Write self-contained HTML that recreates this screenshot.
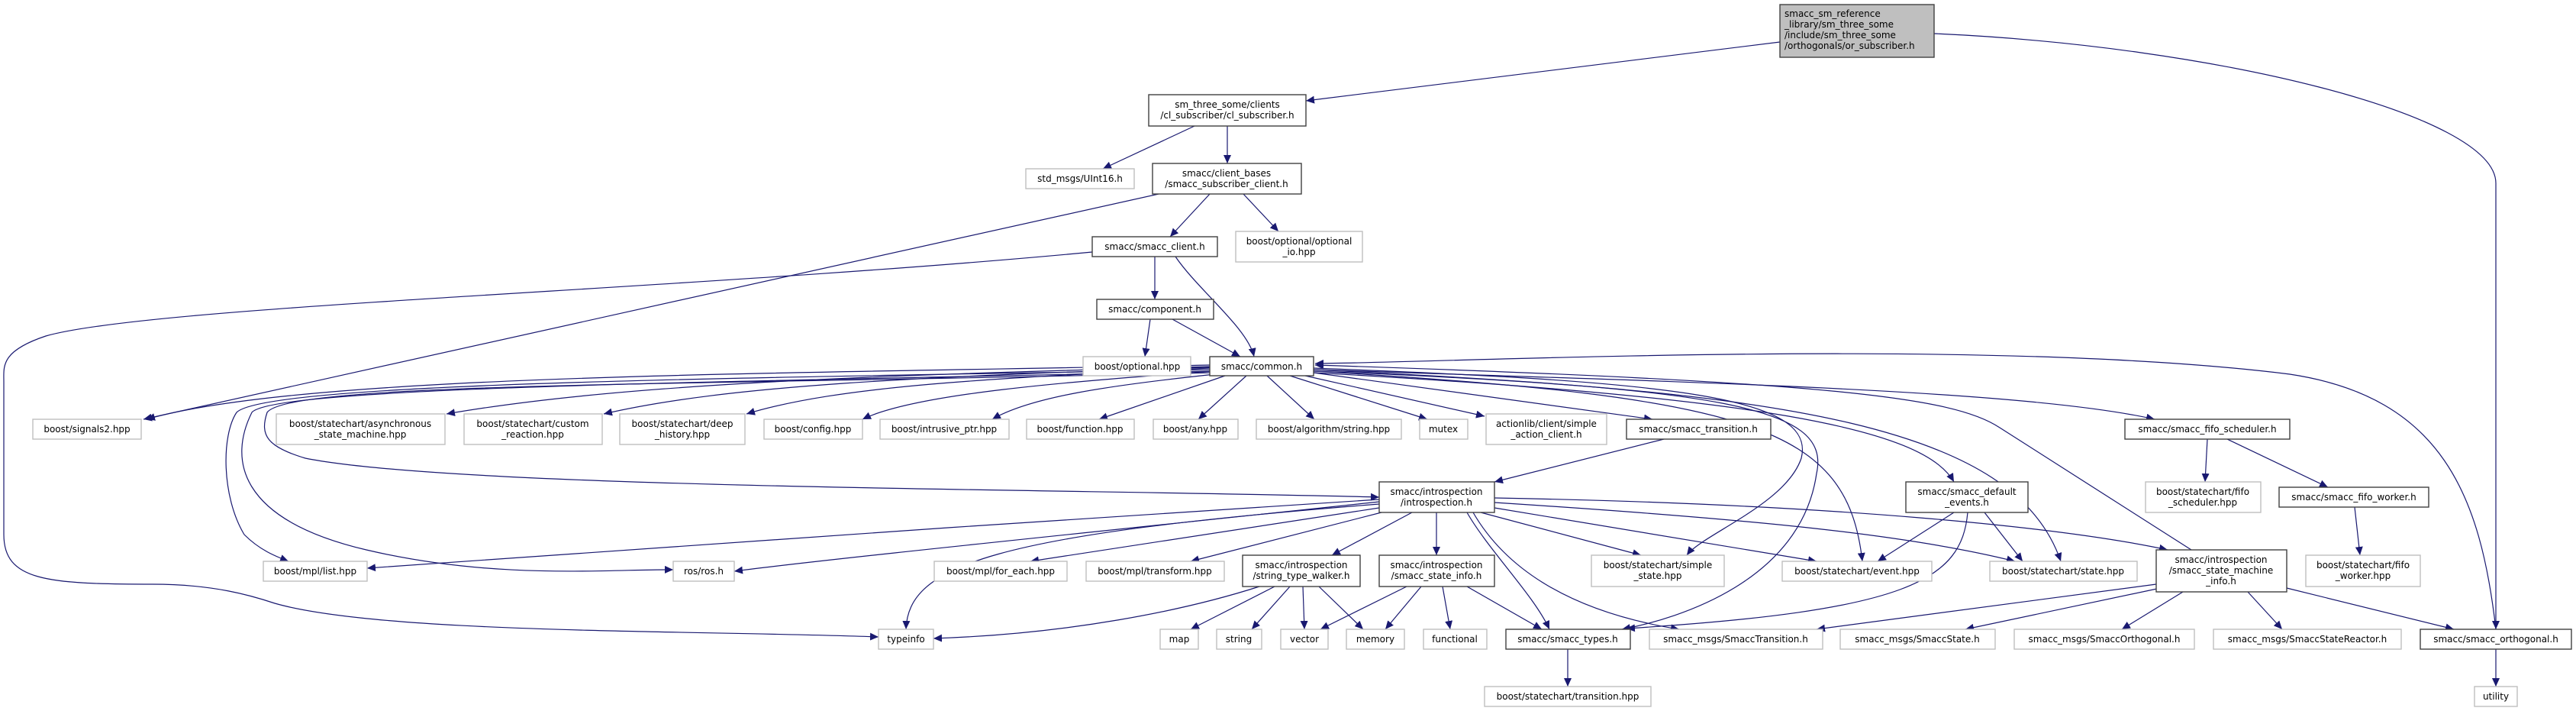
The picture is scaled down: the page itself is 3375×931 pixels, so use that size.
<!DOCTYPE html>
<html><head><meta charset="utf-8"><style>
html,body{margin:0;padding:0;background:#fff}
svg{display:block}
text{font-family:"DejaVu Sans","Liberation Sans",sans-serif;font-size:12px;fill:#000;text-anchor:middle}
.b{fill:#fff;stroke:#404040;stroke-width:1.4}
.g{fill:#fff;stroke:#bfbfbf;stroke-width:1.4}
.e{fill:none;stroke:#191970;stroke-width:1.2;marker-end:url(#a)}
</style></head><body>
<svg width="3375" height="931" viewBox="0 0 3375 931" xmlns="http://www.w3.org/2000/svg">
<defs><marker id="a" markerUnits="userSpaceOnUse" markerWidth="12" markerHeight="10" refX="11" refY="5" orient="auto"><path d="M0,0 L11,5 L0,10 z" fill="#191970"/></marker></defs>

<path class="e" d="M2332,55 L1711,132"/>
<path class="e" d="M2534,44 C2900,60 3270,150 3270,240 L3270,824"/>
<path class="e" d="M1565,165 L1445,221"/>
<path class="e" d="M1608,165 L1608,214"/>
<path class="e" d="M1518,254 L188,549"/>
<path class="e" d="M1585,254 L1533,310"/>
<path class="e" d="M1629,254 L1675,303"/>
<path class="e" d="M1431,330 C900,380 200,400 60,440 C0,460 5,480 5,500 L5,700 C5,760 60,765 200,765 C280,765 330,780 360,790 C500,830 900,825 1151,834"/>
<path class="e" d="M1513,336 L1513,392"/>
<path class="e" d="M1540,336 C1570,380 1635,430 1643,467"/>
<path class="e" d="M1507,418 L1500,467"/>
<path class="e" d="M1536,418 L1625,467"/>

<path class="e" d="M1585,478 C1000,490 400,490 192,549"/>
<path class="e" d="M1585,480 C1100,492 800,505 585,542"/>
<path class="e" d="M1585,481 C1200,493 950,505 791,542"/>
<path class="e" d="M1585,482 C1300,495 1100,505 978,542"/>
<path class="e" d="M1588,486 C1400,500 1200,515 1130,549"/>
<path class="e" d="M1592,490 C1450,505 1350,520 1300,549"/>
<path class="e" d="M1605,492 L1440,549"/>
<path class="e" d="M1633,492 L1570,549"/>
<path class="e" d="M1660,492 L1722,549"/>
<path class="e" d="M1690,492 L1870,549"/>
<path class="e" d="M1710,492 L1945,545"/>
<path class="e" d="M1721,488 L2165,549"/>
<path class="e" d="M1585,484 C1000,495 350,500 310,540 C290,570 290,650 320,700 C340,720 360,728 378,735"/>
<path class="e" d="M1585,486 C1000,500 360,505 330,540 C300,600 310,680 480,720 C650,760 800,745 882,746"/>
<path class="e" d="M1585,488 C900,505 380,500 350,540 C340,570 350,585 400,600 C600,640 1400,640 1807,651"/>
<path class="e" d="M1721,482 C2200,500 2380,520 2360,600 C2340,660 2230,700 2210,727"/>
<path class="e" d="M1721,484 C2250,510 2400,530 2380,620 C2360,760 2200,810 2125,824"/>
<path class="e" d="M1721,486 C2300,520 2420,560 2440,735"/>
<path class="e" d="M1721,488 C2300,520 2520,560 2560,631"/>
<path class="e" d="M1721,486 C2350,510 2640,560 2700,735"/>
<path class="e" d="M1721,484 C2200,500 2650,510 2823,549"/>
<path class="e" d="M2871,720 L2620,560 C2560,520 2400,500 1723,478"/>
<path class="e" d="M3270,824 C3250,650 3200,520 3000,490 C2600,440 1900,475 1723,476"/>

<path class="e" d="M2180,575 L1958,631"/>
<path class="e" d="M2892,575 L2889,631"/>
<path class="e" d="M2918,575 L3050,638"/>
<path class="e" d="M3085,664 L3092,727"/>

<path class="e" d="M1807,654 C1400,680 800,720 481,744"/>
<path class="e" d="M1807,657 C1500,690 1100,730 962,748"/>
<path class="e" d="M1807,660 C1300,700 1190,740 1187,824"/>
<path class="e" d="M1807,665 L1350,735"/>
<path class="e" d="M1810,671 L1560,735"/>
<path class="e" d="M1850,671 L1745,727"/>
<path class="e" d="M1882,671 L1882,727"/>
<path class="e" d="M1922,671 C1950,720 2010,780 2030,824"/>
<path class="e" d="M1930,671 C1970,740 2050,800 2200,824"/>
<path class="e" d="M1940,671 L2150,727"/>
<path class="e" d="M1958,665 L2380,735"/>
<path class="e" d="M1958,658 C2300,680 2500,700 2640,735"/>
<path class="e" d="M1958,652 C2400,660 2700,690 2840,720"/>

<path class="e" d="M2560,671 L2460,735"/>
<path class="e" d="M2600,671 L2650,735"/>
<path class="e" d="M2578,671 C2570,760 2500,800 2131,823"/>

<path class="e" d="M1650,768 C1550,800 1400,830 1223,836"/>
<path class="e" d="M1670,768 L1560,824"/>
<path class="e" d="M1690,768 L1640,824"/>
<path class="e" d="M1707,768 L1709,824"/>
<path class="e" d="M1728,768 L1786,824"/>
<path class="e" d="M1843,768 L1730,824"/>
<path class="e" d="M1862,768 L1815,824"/>
<path class="e" d="M1890,768 L1900,824"/>
<path class="e" d="M1922,768 L2020,824"/>
<path class="e" d="M2825,765 L2380,824"/>
<path class="e" d="M2840,768 L2575,824"/>
<path class="e" d="M2860,775 L2780,824"/>
<path class="e" d="M2945,775 L2990,824"/>
<path class="e" d="M2996,770 L3215,824"/>
<path class="e" d="M2054,850 L2054,899"/>
<path class="e" d="M3270,850 L3270,899"/>

<rect x="2332" y="6" width="202" height="69" fill="#bfbfbf" stroke="#404040" stroke-width="1.4"/>
<text x="2338" y="22" style="text-anchor:start">smacc_sm_reference</text>
<text x="2338" y="36" style="text-anchor:start">_library/sm_three_some</text>
<text x="2338" y="50" style="text-anchor:start">/include/sm_three_some</text>
<text x="2338" y="64" style="text-anchor:start">/orthogonals/or_subscriber.h</text>

<rect class="b" x="1505" y="124" width="206" height="41"/><text x="1608" y="141">sm_three_some/clients</text><text x="1608" y="155">/cl_subscriber/cl_subscriber.h</text>
<rect class="g" x="1344" y="221" width="142" height="26"/><text x="1415" y="238">std_msgs/UInt16.h</text>
<rect class="b" x="1510" y="214" width="195" height="40"/><text x="1607" y="231">smacc/client_bases</text><text x="1607" y="245">/smacc_subscriber_client.h</text>
<rect class="g" x="1619" y="303" width="166" height="40"/><text x="1702" y="320">boost/optional/optional</text><text x="1702" y="334">_io.hpp</text>
<rect class="b" x="1431" y="310" width="164" height="26"/><text x="1513" y="327">smacc/smacc_client.h</text>
<rect class="b" x="1437" y="392" width="153" height="26"/><text x="1513" y="409">smacc/component.h</text>
<rect class="g" x="1419" y="467" width="141" height="25"/><text x="1490" y="484">boost/optional.hpp</text>
<rect class="b" x="1585" y="467" width="136" height="25"/><text x="1653" y="484">smacc/common.h</text>

<rect class="g" x="43" y="549" width="142" height="26"/><text x="114" y="566">boost/signals2.hpp</text>
<rect class="g" x="362" y="542" width="221" height="40"/><text x="472" y="559">boost/statechart/asynchronous</text><text x="472" y="573">_state_machine.hpp</text>
<rect class="g" x="608" y="542" width="181" height="40"/><text x="698" y="559">boost/statechart/custom</text><text x="698" y="573">_reaction.hpp</text>
<rect class="g" x="812" y="542" width="164" height="40"/><text x="894" y="559">boost/statechart/deep</text><text x="894" y="573">_history.hpp</text>
<rect class="g" x="1001" y="549" width="129" height="26"/><text x="1065" y="566">boost/config.hpp</text>
<rect class="g" x="1153" y="549" width="169" height="26"/><text x="1237" y="566">boost/intrusive_ptr.hpp</text>
<rect class="g" x="1345" y="549" width="141" height="26"/><text x="1415" y="566">boost/function.hpp</text>
<rect class="g" x="1511" y="549" width="111" height="26"/><text x="1566" y="566">boost/any.hpp</text>
<rect class="g" x="1646" y="549" width="190" height="26"/><text x="1741" y="566">boost/algorithm/string.hpp</text>
<rect class="g" x="1860" y="549" width="63" height="26"/><text x="1891" y="566">mutex</text>
<rect class="g" x="1947" y="542" width="158" height="40"/><text x="2026" y="559">actionlib/client/simple</text><text x="2026" y="573">_action_client.h</text>
<rect class="b" x="2131" y="549" width="189" height="26"/><text x="2225" y="566">smacc/smacc_transition.h</text>
<rect class="b" x="2784" y="549" width="216" height="26"/><text x="2892" y="566">smacc/smacc_fifo_scheduler.h</text>

<rect class="b" x="1807" y="631" width="151" height="40"/><text x="1882" y="648">smacc/introspection</text><text x="1882" y="662">/introspection.h</text>
<rect class="b" x="2497" y="631" width="160" height="40"/><text x="2577" y="648">smacc/smacc_default</text><text x="2577" y="662">_events.h</text>
<rect class="g" x="2811" y="631" width="151" height="40"/><text x="2886" y="648">boost/statechart/fifo</text><text x="2886" y="662">_scheduler.hpp</text>
<rect class="b" x="2986" y="638" width="196" height="26"/><text x="3084" y="655">smacc/smacc_fifo_worker.h</text>

<rect class="g" x="345" y="735" width="136" height="26"/><text x="413" y="752">boost/mpl/list.hpp</text>
<rect class="g" x="882" y="735" width="80" height="26"/><text x="922" y="752">ros/ros.h</text>
<rect class="g" x="1224" y="735" width="174" height="26"/><text x="1311" y="752">boost/mpl/for_each.hpp</text>
<rect class="g" x="1423" y="735" width="181" height="26"/><text x="1513" y="752">boost/mpl/transform.hpp</text>
<rect class="b" x="1628" y="727" width="154" height="41"/><text x="1705" y="744">smacc/introspection</text><text x="1705" y="758">/string_type_walker.h</text>
<rect class="b" x="1807" y="727" width="151" height="41"/><text x="1882" y="744">smacc/introspection</text><text x="1882" y="758">/smacc_state_info.h</text>
<rect class="g" x="2085" y="727" width="174" height="41"/><text x="2172" y="744">boost/statechart/simple</text><text x="2172" y="758">_state.hpp</text>
<rect class="g" x="2335" y="735" width="196" height="26"/><text x="2433" y="752">boost/statechart/event.hpp</text>
<rect class="g" x="2607" y="735" width="193" height="26"/><text x="2703" y="752">boost/statechart/state.hpp</text>
<rect class="b" x="2825" y="720" width="171" height="55"/><text x="2910" y="737">smacc/introspection</text><text x="2910" y="751">/smacc_state_machine</text><text x="2910" y="765">_info.h</text>
<rect class="g" x="3021" y="727" width="150" height="41"/><text x="3096" y="744">boost/statechart/fifo</text><text x="3096" y="758">_worker.hpp</text>

<rect class="g" x="1151" y="824" width="72" height="26"/><text x="1187" y="841">typeinfo</text>
<rect class="g" x="1520" y="824" width="50" height="26"/><text x="1545" y="841">map</text>
<rect class="g" x="1594" y="824" width="59" height="26"/><text x="1623" y="841">string</text>
<rect class="g" x="1678" y="824" width="62" height="26"/><text x="1709" y="841">vector</text>
<rect class="g" x="1764" y="824" width="76" height="26"/><text x="1802" y="841">memory</text>
<rect class="g" x="1865" y="824" width="83" height="26"/><text x="1906" y="841">functional</text>
<rect class="b" x="1973" y="824" width="163" height="26"/><text x="2054" y="841">smacc/smacc_types.h</text>
<rect class="g" x="2161" y="824" width="227" height="26"/><text x="2274" y="841">smacc_msgs/SmaccTransition.h</text>
<rect class="g" x="2411" y="824" width="203" height="26"/><text x="2512" y="841">smacc_msgs/SmaccState.h</text>
<rect class="g" x="2639" y="824" width="236" height="26"/><text x="2757" y="841">smacc_msgs/SmaccOrthogonal.h</text>
<rect class="g" x="2900" y="824" width="246" height="26"/><text x="3023" y="841">smacc_msgs/SmaccStateReactor.h</text>
<rect class="b" x="3171" y="824" width="198" height="26"/><text x="3270" y="841">smacc/smacc_orthogonal.h</text>
<rect class="g" x="1945" y="899" width="218" height="26"/><text x="2054" y="916">boost/statechart/transition.hpp</text>
<rect class="g" x="3242" y="899" width="56" height="26"/><text x="3270" y="916">utility</text>
</svg>
</body></html>
